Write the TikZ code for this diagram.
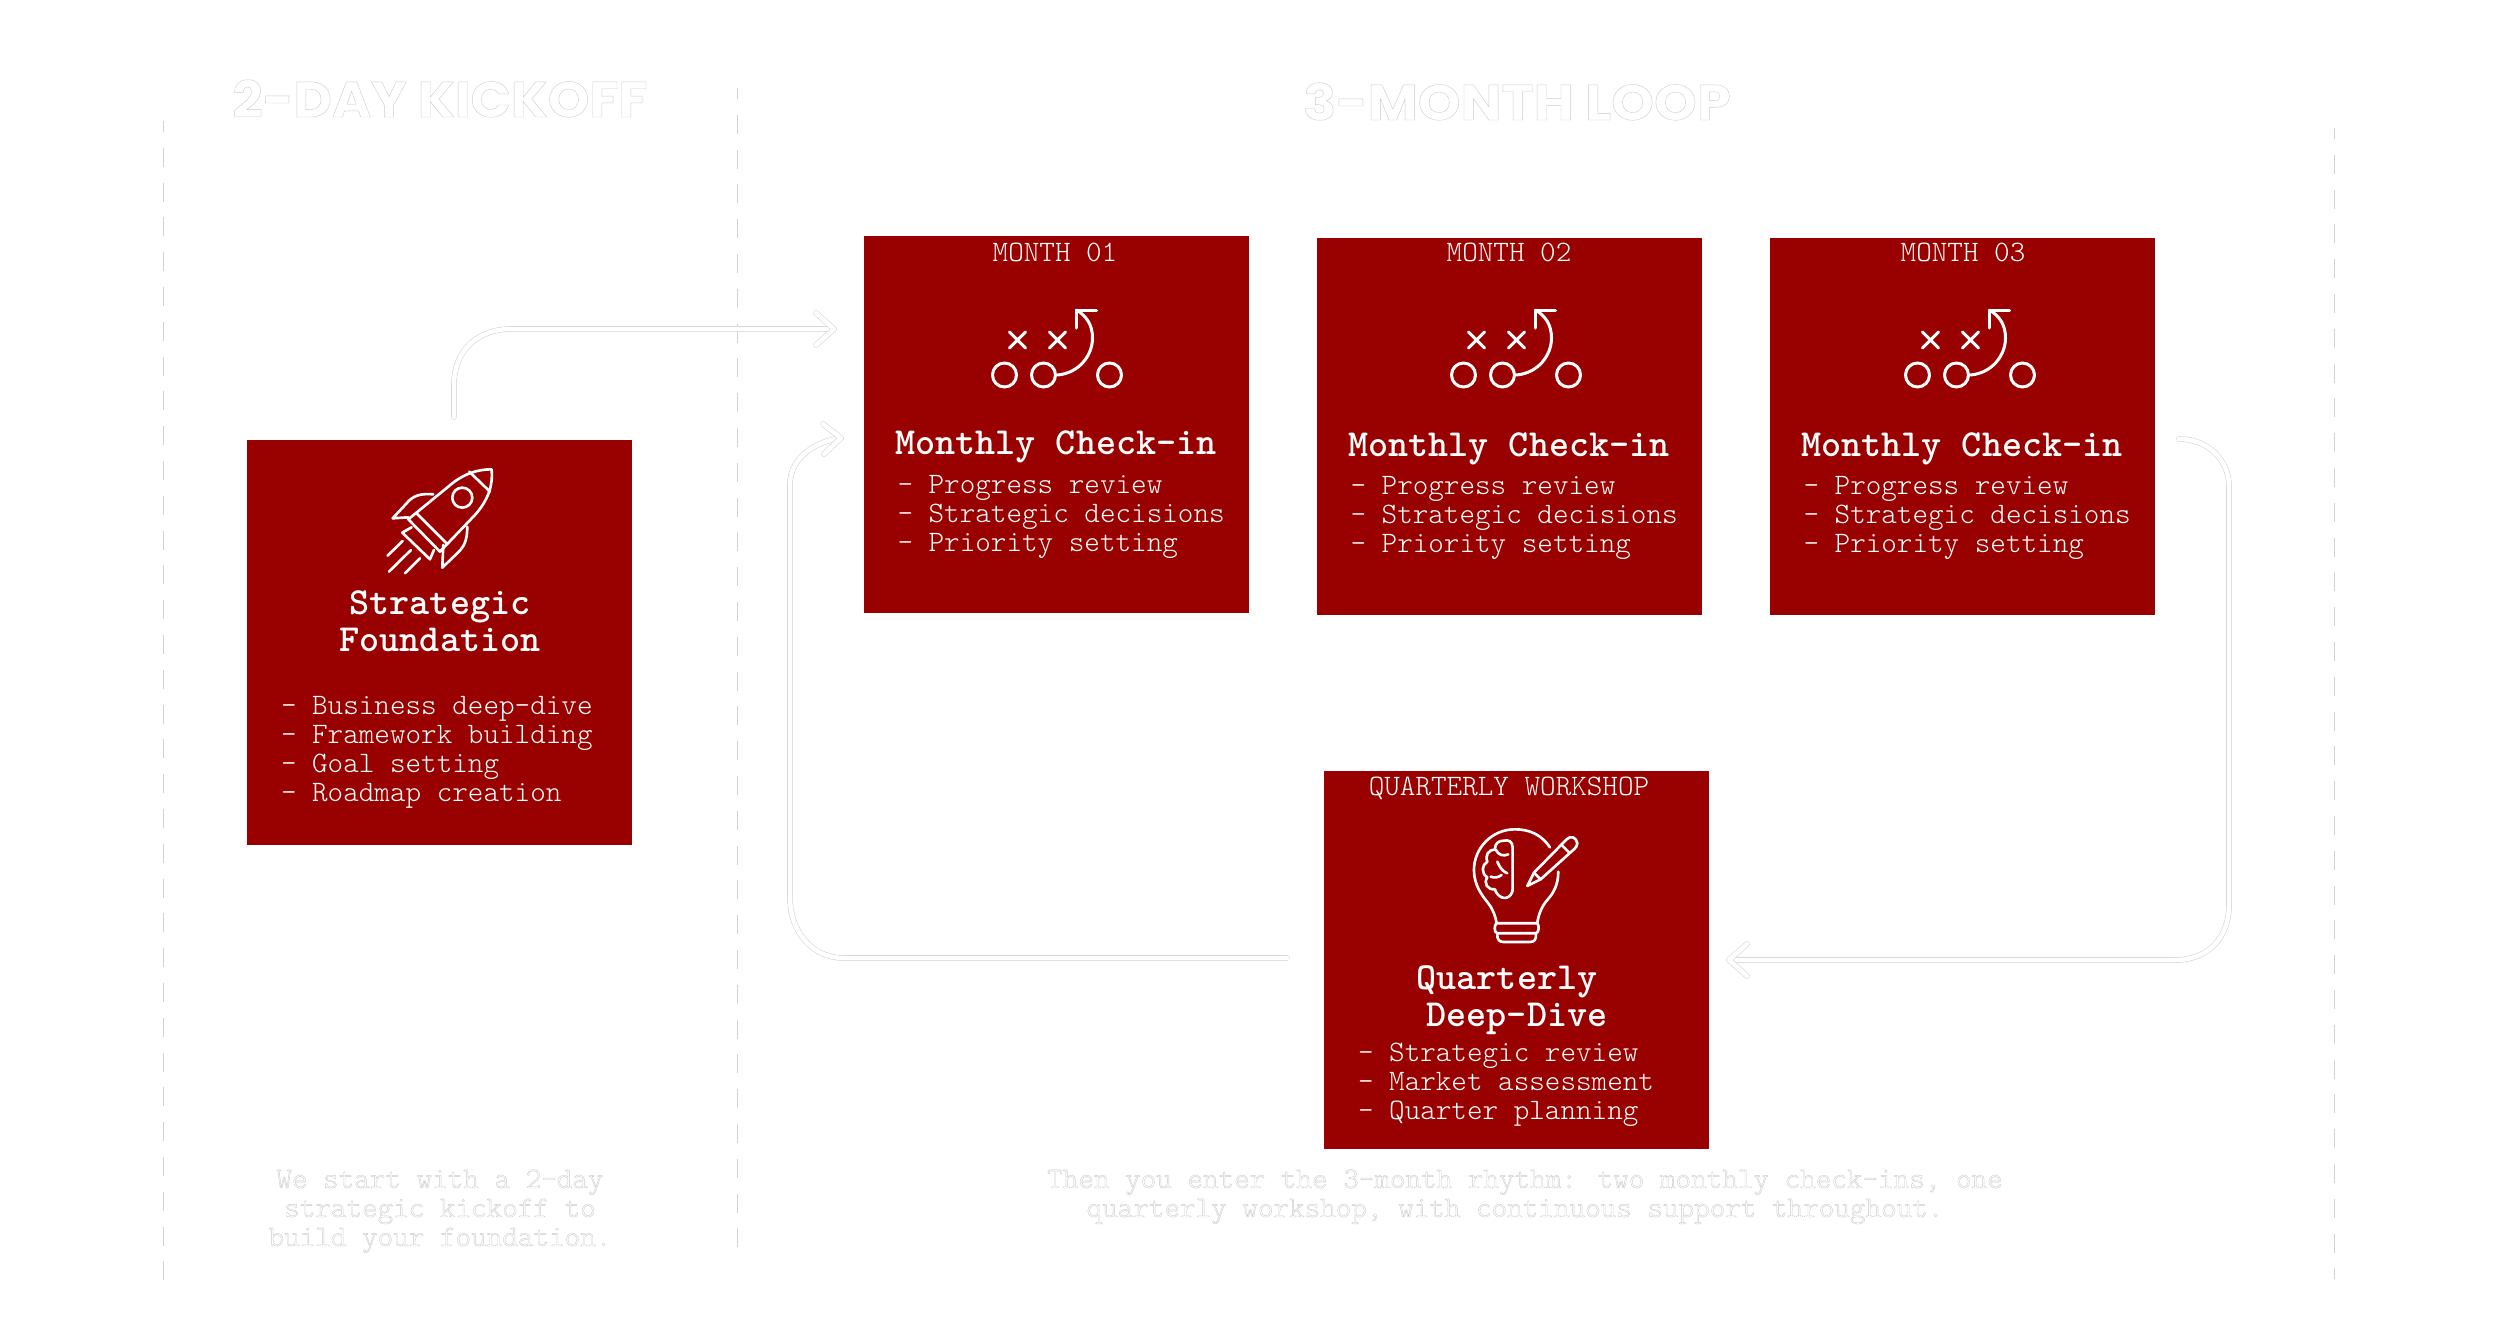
\documentclass[tikz,border=0pt]{standalone}
\usepackage{fontspec}
\newfontfamily\headfont{Poppins}
\usetikzlibrary{calc}
\definecolor{boxred}{HTML}{990000}
\definecolor{hair}{HTML}{D2D2D2}
\newcommand{\outl}[1]{\color{white}\special{pdf:code 2 Tr 0.8 0.8 0.8 RG 1 1 1 rg 0.16 w}#1\special{pdf:code 0 Tr}}
\tikzset{
  box/.style={fill=boxred,draw=none,inner sep=0pt,outer sep=0pt,anchor=north west,minimum width=154pt},
  txt/.style={inner sep=0pt,outer sep=0pt,text=white,font=\ttfamily\fontseries{l}\fontsize{11.87}{11.6}\selectfont},
  items/.style={txt,anchor=base west,align=left},
  tag/.style={txt,anchor=base},
  heading/.style={txt,anchor=base,align=center,font=\ttfamily\bfseries\fontsize{15.3}{14.8}\selectfont},
  faint/.style={txt,anchor=base,align=center},
  bighead/.style={inner sep=0pt,outer sep=0pt,anchor=base,font=\headfont\bfseries\fontsize{20}{20}\selectfont},
  guide/.style={draw=hair,line width=.4pt,dash pattern=on 7.6pt off 6.32pt,dash phase=3.2pt},
  conn/.style={draw=hair,line width=.22pt,double=white,double distance=1.8pt,line join=round,line cap=round},
  icon/.style={draw=white,line width=1.05pt,line cap=round,line join=round,fill=none},
  play/.pic={
    \draw[icon,line width=1.2pt] (-50,35) circle[radius=12] (-11,35) circle[radius=12] (55,35) circle[radius=12];
    \draw[icon,line width=1.2pt] (-45,-8)--(-29,8) (-45,8)--(-29,-8) (-5,-8)--(11,8) (-5,8)--(11,-8);
    \draw[icon,line width=1.2pt] (3,35) .. controls (25,33) and (38,15) .. (38,-2) .. controls (38,-15) and (32,-24) .. (22,-30);
    \draw[icon,line width=1.2pt] (22,-12)--(22,-30)--(42,-30);
  },
}
\begin{document}
\begin{tikzpicture}[x=0.4pt,y=-0.4pt]
\useasboundingbox (0,0) rectangle (2500,1327);
\fill[white] (0,0) rectangle (2500,1327);

% guides
\coordinate (gl1) at (163,121); \coordinate (gl2) at (163,1280);
\coordinate (gm1) at (737,88);  \coordinate (gm2) at (737,1250);
\coordinate (gr1) at (2334,128);\coordinate (gr2) at (2334,1279);
\draw[guide] (gl1)--(gl2);
\draw[guide] (gm1)--(gm2);
\draw[guide] (gr1)--(gr2);

% headings
\node[bighead,xscale=1.06,transform shape] (h1) at (440,117) {\outl{2-DAY KICKOFF}};
\node[bighead,xscale=1.09,transform shape] (h2) at (1517,120) {\outl{3-MONTH LOOP}};

% boxes
\node[box,minimum height=162pt] (found) at (247,440) {};
\node[box,minimum height=150.8pt] (m1) at (864,236) {};
\node[box,minimum height=150.8pt] (m2) at (1317,237.5) {};
\node[box,minimum height=150.8pt] (m3) at (1769.5,237.5) {};
\node[box,minimum height=151.2pt] (q) at (1324,771) {};

% connectors
\coordinate (a1s) at (454,417); \coordinate (a1t) at (834,329);
\coordinate (a1u) at (816,313); \coordinate (a1d) at (816,345);
\draw[conn] (a1s) -- (454,385) .. controls (454,350) and (478,329) .. (511,329) -- (a1t);
\draw[conn] (a1u)--(a1t)--(a1d);

\coordinate (a2s) at (1287,958); \coordinate (a2t) at (841,438);
\coordinate (a2u) at (823,424); \coordinate (a2d) at (824,454);
\draw[conn] (a2s) -- (844,958) .. controls (812,958) and (790,932) .. (790,897) -- (790,484) .. controls (790,460) and (812,442) .. (a2t);
\draw[conn] (a2u)--(a2t)--(a2d);

\coordinate (a3s) at (2179,439); \coordinate (a3t) at (1729,960);
\coordinate (a3u) at (1747,944); \coordinate (a3d) at (1747,976);
\draw[conn] (a3s) .. controls (2208,439) and (2229,460) .. (2229,486) -- (2229,905) .. controls (2229,938) and (2208,960) .. (2175,960) -- (a3t);
\draw[conn] (a3u)--(a3t)--(a3d);

% rocket
\begin{scope}[shift={(230,430)},x=0.1333pt,y=-0.1333pt]
\draw[icon] (785,118) .. controls (745,118) and (700,130) .. (655,170) -- (535,268) -- (630,365) -- (735,255) .. controls (775,210) and (790,165) .. (785,118);
\draw[icon] (718,125)--(780,185);
\draw[icon] (697,203) circle[radius=30];
\draw[icon] (560,250)--(650,340);
\draw[icon] (545,292)--(517,308)--(600,388)--(612,360);
\draw[icon] (610,193) .. controls (575,190) and (550,195) .. (530,220) -- (488,265) -- (535,262);
\draw[icon] (712,290) .. controls (712,325) and (705,345) .. (690,362) -- (637,413) -- (640,345);
\draw[icon] (473,377)--(518,333) (477,425)--(543,360) (525,430)--(570,385);
\end{scope}

% bulb
\begin{scope}[shift={(1300,760)},x=0.1333pt,y=-0.1333pt]
\draw[icon] (750,262) .. controls (725,225) and (690,208) .. (645,208) .. controls (575,208) and (522,265) .. (522,330) .. controls (522,375) and (545,405) .. (565,430) .. controls (580,450) and (587,470) .. (590,490) -- (712,490) .. controls (715,465) and (725,440) .. (742,420) .. controls (760,400) and (775,375) .. (775,335);
\draw[icon] (590,490) .. controls (582,495) and (582,518) .. (592,520) -- (708,520) .. controls (718,518) and (718,495) .. (712,490);
\draw[icon] (592,520) .. controls (590,540) and (600,546) .. (610,546) -- (690,546) .. controls (702,546) and (710,540) .. (708,520);
% brain
\draw[icon] (638,262) .. controls (638,245) and (625,238) .. (612,242) .. controls (595,242) and (585,250) .. (585,268) .. controls (565,270) and (555,285) .. (562,305) .. controls (545,315) and (543,340) .. (562,352) .. controls (550,370) and (562,390) .. (585,388) .. controls (590,408) and (615,425) .. (632,405) .. controls (638,398) and (638,392) .. (638,385) -- cycle;
\draw[icon] (625,283) .. controls (610,290) and (595,285) .. (588,270);
\draw[icon] (592,305) .. controls (600,325) and (610,335) .. (622,340);
\draw[icon] (572,350) .. controls (585,355) and (595,352) .. (605,345);
% pencil
\draw[icon] (682,378) -- (702,338) -- (800,238) .. controls (812,225) and (830,232) .. (832,250) .. controls (832,258) and (828,262) .. (822,268) -- (722,358) -- cycle;
\draw[icon] (702,338)--(722,358);
\draw[icon] (785,255)--(808,278);
\end{scope}

% play icons
\pic at (1054.5,340) {play};
\pic at (1513.5,340) {play};
\pic at (1967.5,340) {play};

% Foundation text
\node[heading] (ft) at (440,651) {Strategic\\Foundation};
\node[items] (fi) at (281,801) {- Business deep-dive\\- Framework building\\- Goal setting\\- Roadmap creation};

% month texts
\node[tag] (t1) at (1055,261) {MONTH 01};
\node[heading] (h1t) at (1056,454) {Monthly Check-in};
\node[items] (i1) at (897.5,551) {- Progress review\\- Strategic decisions\\- Priority setting};

\node[tag] (t2) at (1509,261.5) {MONTH 02};
\node[heading] (h2t) at (1509,456) {Monthly Check-in};
\node[items] (i2) at (1350.5,552.5) {- Progress review\\- Strategic decisions\\- Priority setting};

\node[tag] (t3) at (1963,261.5) {MONTH 03};
\node[heading] (h3t) at (1962,456) {Monthly Check-in};
\node[items] (i3) at (1803.5,552.5) {- Progress review\\- Strategic decisions\\- Priority setting};

% quarterly text
\node[tag] (tq) at (1509,795) {QUARTERLY WORKSHOP};
\node[heading] (qa) at (1507,989) {Quarterly};
\node[heading] (qb) at (1517,1026) {Deep-Dive};
\node[items] (qi) at (1358,1119) {- Strategic review\\- Market assessment\\- Quarter planning};

% captions
\node[faint] (c1) at (440,1246) {\outl{We start with a 2-day}\\\outl{strategic kickoff to}\\\outl{build your foundation.}};
\node[faint] (c2) at (1515,1217) {\hspace*{8pt}\outl{Then you enter the 3-month rhythm: two monthly check-ins, one}\\\outl{quarterly workshop, with continuous support throughout.}};
\end{tikzpicture}
\end{document}
